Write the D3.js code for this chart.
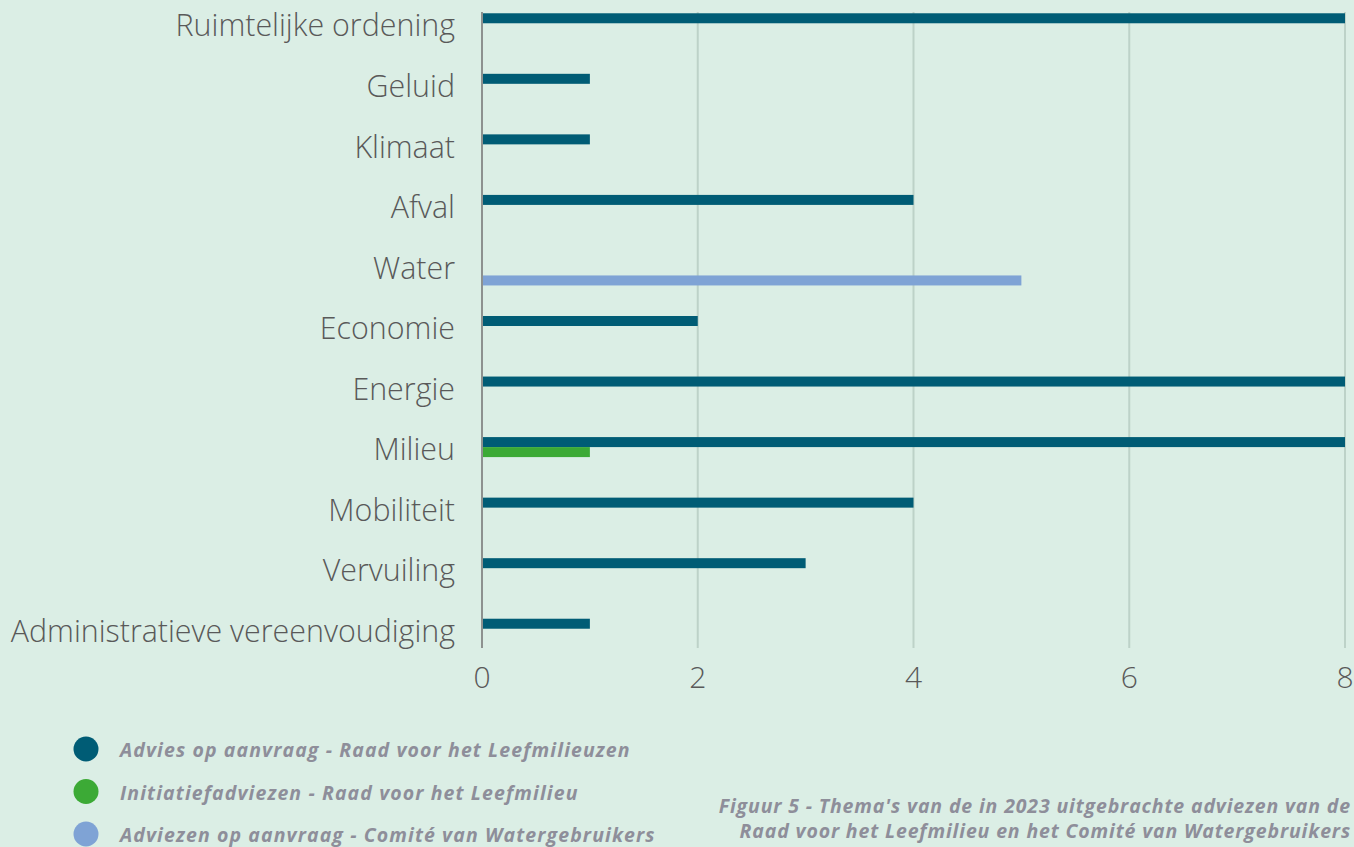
<!DOCTYPE html>
<html>
<head>
<meta charset="utf-8">
<script src="https://cdn.jsdelivr.net/npm/d3@7"></script>
<style>
    body { margin: 0; background: #dbeee5; }
    svg { display: block; }
    .cat_label { font-family: "Open Sans"; font-weight: 300; font-size: 30.4px; fill: #595959; }
    .tick_label { font-family: "Open Sans"; font-weight: 300; font-size: 30px; fill: #595959; }
    .legend_txt, .caption { font-family: "Open Sans"; font-weight: 700; font-style: italic; fill: #8e8e9a; }
    .legend_txt { letter-spacing: 1.1px; }
    .caption { letter-spacing: 0.85px; }
</style>
</head>
<body>
<div id="graph"></div>
<script>
// categories top to bottom
var categories = ["Ruimtelijke ordening", "Geluid", "Klimaat", "Afval", "Water", "Economie",
    "Energie", "Milieu", "Mobiliteit", "Vervuiling", "Administratieve vereenvoudiging"];
var advies_rl = [8, 1, 1, 4, 0, 2, 8, 8, 4, 3, 1];
var initiatief_rl = [0, 0, 0, 0, 0, 0, 0, 1, 0, 0, 0];
var advies_cw = [0, 0, 0, 0, 5, 0, 0, 0, 0, 0, 0];
var series_names = ["Advies op aanvraag - Raad voor het Leefmilieuzen",
    "Initiatiefadviezen - Raad voor het Leefmilieu",
    "Adviezen op aanvraag - Comité van Watergebruikers"];
var series_colors = ["#005c75", "#3caa36", "#7fa3d5"];
var x_ticks = [0, 2, 4, 6, 8];
var caption_lines = ["Figuur 5 - Thema's van de in 2023 uitgebrachte adviezen van de",
    "Raad voor het Leefmilieu en het Comité van Watergebruikers"];

var width = 1354, height = 847;
var plot_left = 482, plot_right = 1345, plot_top = 12, plot_bot = 648;

var svg = d3.select("#graph").append("svg")
        .attr("width", width)
        .attr("height", height);
svg.append("rect").attr("width", width).attr("height", height).attr("fill", "#dbeee5");

var xScale = d3.scaleLinear().domain([0, 8]).range([plot_left, plot_right]);
var yScale = d3.scaleBand().domain(categories).range([-3, 663]);
var subScale = d3.scaleBand().domain([0, 1, 2]).range([-14, 16]);

// gridlines
svg.append("g").selectAll("line")
        .data(x_ticks.filter(function (d) { return d > 0; }))
        .enter().append("line")
        .attr("x1", function (d) { return xScale(d); })
        .attr("x2", function (d) { return xScale(d); })
        .attr("y1", plot_top)
        .attr("y2", plot_bot)
        .attr("stroke", "#bdd2c8")
        .attr("stroke-width", 2);

// bars
var all_series = [advies_rl, initiatief_rl, advies_cw];
all_series.forEach(function (vals, s) {
    svg.append("g").selectAll("rect")
            .data(categories.map(function (c, i) { return {cat: c, v: vals[i]}; }).filter(function (d) { return d.v > 0; }))
            .enter().append("rect")
            .attr("x", xScale(0))
            .attr("y", function (d) { return yScale(d.cat) + yScale.bandwidth() / 2 + subScale(s); })
            .attr("width", function (d) { return xScale(d.v) - xScale(0); })
            .attr("height", subScale.bandwidth())
            .attr("fill", series_colors[s]);
});

// axis line at 0
svg.append("line")
        .attr("x1", xScale(0)).attr("x2", xScale(0))
        .attr("y1", plot_top).attr("y2", plot_bot)
        .attr("stroke", "#8d918f")
        .attr("stroke-width", 2);

// category labels
svg.append("g").selectAll("text")
        .data(categories)
        .enter().append("text")
        .attr("class", "cat_label")
        .attr("x", plot_left - 27)
        .attr("y", function (d) { return yScale(d) + yScale.bandwidth() / 2 - 1.5; })
        .attr("dy", "0.35em")
        .style("text-anchor", "end")
        .text(function (d) { return d; });

// x tick labels
svg.append("g").selectAll("text")
        .data(x_ticks)
        .enter().append("text")
        .attr("class", "tick_label")
        .attr("x", function (d) { return xScale(d); })
        .attr("y", 688)
        .style("text-anchor", "middle")
        .text(function (d) { return d; });

// legend
var legend = svg.append("g").selectAll("g")
        .data(series_names)
        .enter().append("g")
        .attr("transform", function (d, i) { return "translate(86," + (749 + i * 42.5) + ")"; });
legend.append("circle")
        .attr("r", 12.5)
        .attr("fill", function (d, i) { return series_colors[i]; });
legend.append("text")
        .attr("class", "legend_txt")
        .attr("x", 34)
        .attr("y", 8)
        .style("font-size", "19.5px")
        .text(function (d) { return d; });

// caption
svg.append("g").selectAll("text")
        .data(caption_lines)
        .enter().append("text")
        .attr("class", "caption")
        .attr("x", 1351)
        .attr("y", function (d, i) { return 813 + i * 25; })
        .style("text-anchor", "end")
        .style("font-size", "19.5px")
        .text(function (d) { return d; });
</script>
</body>
</html>
